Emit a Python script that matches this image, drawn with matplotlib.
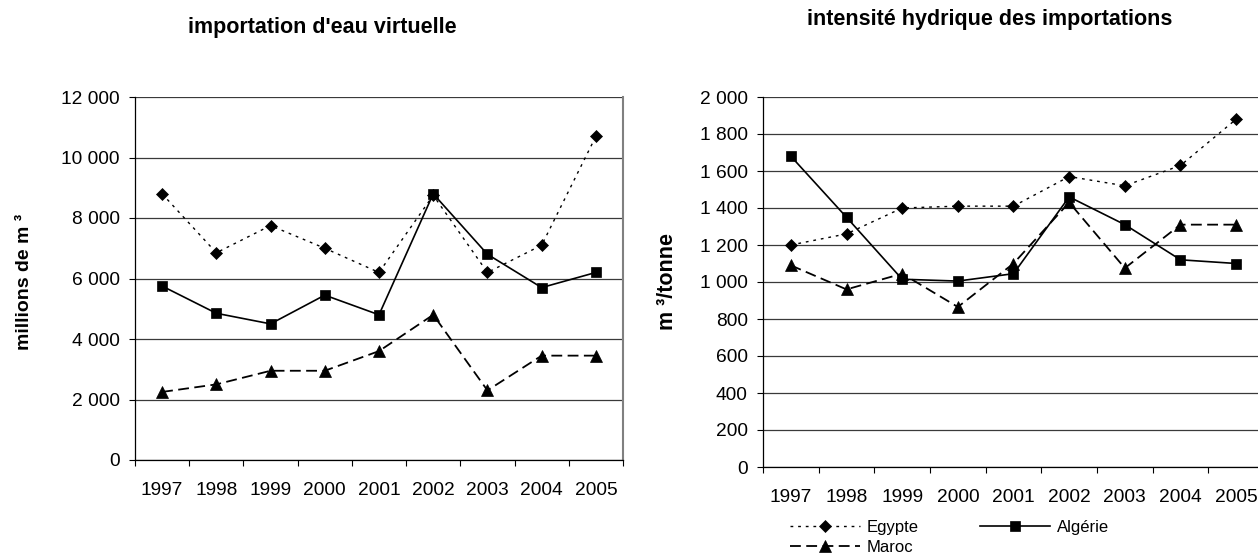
from __future__ import annotations

import matplotlib

matplotlib.use("Agg")
import matplotlib.pyplot as plt
from matplotlib.ticker import FixedLocator, FuncFormatter

YEARS = ["1997", "1998", "1999", "2000", "2001", "2002", "2003", "2004", "2005"]
SERIES_NAMES = ["Egypte", "Algérie", "Maroc"]

# importation d'eau virtuelle (millions de m3)
VOLUME_EGYPTE = [8800, 6850, 7750, 7000, 6200, 8750, 6200, 7100, 10700]
VOLUME_ALGERIE = [5750, 4850, 4500, 5450, 4800, 8800, 6800, 5700, 6200]
VOLUME_MAROC = [2250, 2500, 2950, 2950, 3600, 4800, 2300, 3450, 3450]

# intensité hydrique des importations (m3/tonne)
INTENSITY_EGYPTE = [1200, 1260, 1400, 1410, 1410, 1570, 1520, 1630, 1880]
INTENSITY_ALGERIE = [1680, 1350, 1015, 1005, 1045, 1460, 1310, 1120, 1100]
INTENSITY_MAROC = [1090, 960, 1045, 865, 1100, 1430, 1075, 1310, 1310]

LEFT_TITLE = "importation d'eau virtuelle"
RIGHT_TITLE = "intensité hydrique des importations"
LEFT_YLABEL = "millions de m \u00b3"
RIGHT_YLABEL = "m \u00b3/tonne"

W, H = 1258, 558

STYLES = {
    "Egypte": dict(marker="D", markersize=6.4, linestyle=(0, (2.0, 3.5)), linewidth=1.0),
    "Algérie": dict(marker="s", markersize=7.2, linestyle="-", linewidth=1.2),
    "Maroc": dict(marker="^", markersize=8.8, linestyle=(0, (6.0, 3.0)), linewidth=1.3),
}


def _thousands(value: float, _pos: int) -> str:
    return f"{value:,.0f}".replace(",", " ")


def _px_axes(fig, left, top, right, bottom):
    return fig.add_axes([left / W, 1 - bottom / H, (right - left) / W, (bottom - top) / H])


def _draw_panel(ax, series, ymax, ystep, ylabel, label_size, right_spine_visible):
    x = list(range(len(YEARS)))
    lines = {}
    for name, values in series:
        (line,) = ax.plot(
            x,
            values,
            color="black",
            markerfacecolor="black",
            markeredgecolor="black",
            markeredgewidth=0.5,
            label=name,
            clip_on=False,
            zorder=3,
            **STYLES[name],
        )
        lines[name] = line

    ax.set_xlim(-0.5, len(YEARS) - 0.5)
    ax.set_ylim(0, ymax)
    ax.yaxis.set_major_locator(FixedLocator(list(range(0, ymax + 1, ystep))))
    ax.yaxis.set_major_formatter(FuncFormatter(_thousands))
    ax.set_xticks(x)
    ax.set_xticklabels(YEARS)
    ax.set_xticks([i - 0.5 for i in range(len(YEARS) + 1)], minor=True)
    ax.tick_params(axis="x", which="major", length=0, pad=16, labelsize=13.8)
    ax.tick_params(axis="x", which="minor", length=4, width=0.8, direction="out")
    ax.tick_params(axis="y", length=4, width=0.8, direction="out", pad=7, labelsize=13.8)

    ax.grid(axis="y", color="#3a3a3a", linewidth=0.9)
    ax.set_axisbelow(True)
    for side in ("left", "bottom"):
        ax.spines[side].set_color("black")
        ax.spines[side].set_linewidth(0.9)
    ax.spines["top"].set_visible(False)
    ax.spines["right"].set_visible(right_spine_visible)
    ax.spines["right"].set_color("#808080")
    ax.spines["right"].set_linewidth(1.5)
    ax.set_ylabel(ylabel, fontsize=label_size, fontweight="bold")
    return lines


def main() -> None:
    plt.rcParams["font.family"] = ["Liberation Sans", "DejaVu Sans"]
    fig = plt.figure(figsize=(W / 100, H / 100), dpi=100, facecolor="white")

    left_ax = _px_axes(fig, 135, 97, 623, 460)
    _draw_panel(
        left_ax,
        [("Egypte", VOLUME_EGYPTE), ("Algérie", VOLUME_ALGERIE), ("Maroc", VOLUME_MAROC)],
        12000,
        2000,
        LEFT_YLABEL,
        14,
        True,
    )
    left_ax.yaxis.set_label_coords(-0.209, 0.49)

    right_ax = _px_axes(fig, 763, 97, 1264, 467)
    lines = _draw_panel(
        right_ax,
        [("Egypte", INTENSITY_EGYPTE), ("Algérie", INTENSITY_ALGERIE), ("Maroc", INTENSITY_MAROC)],
        2000,
        200,
        RIGHT_YLABEL,
        15.5,
        False,
    )
    right_ax.yaxis.set_label_coords(-0.17, 0.5)

    fig.text(322 / W, 1 - 28 / H, LEFT_TITLE, ha="center", va="center",
             fontsize=15.5, fontweight="bold")
    fig.text(990 / W, 1 - 20 / H, RIGHT_TITLE, ha="center", va="center",
             fontsize=15.5, fontweight="bold")

    order = ["Egypte", "Maroc", "Algérie"]
    fig.legend(
        [lines[name] for name in order],
        order,
        loc="upper left",
        bbox_to_anchor=(790 / W, 1 - 520 / H),
        ncol=2,
        frameon=False,
        fontsize=12,
        handlelength=4.2,
        handletextpad=0.4,
        columnspacing=3.7,
        labelspacing=0.3,
        borderpad=0,
        borderaxespad=0,
    )

    fig.savefig("out.png", dpi=100, facecolor="white")
    plt.close(fig)


if __name__ == "__main__":
    main()
